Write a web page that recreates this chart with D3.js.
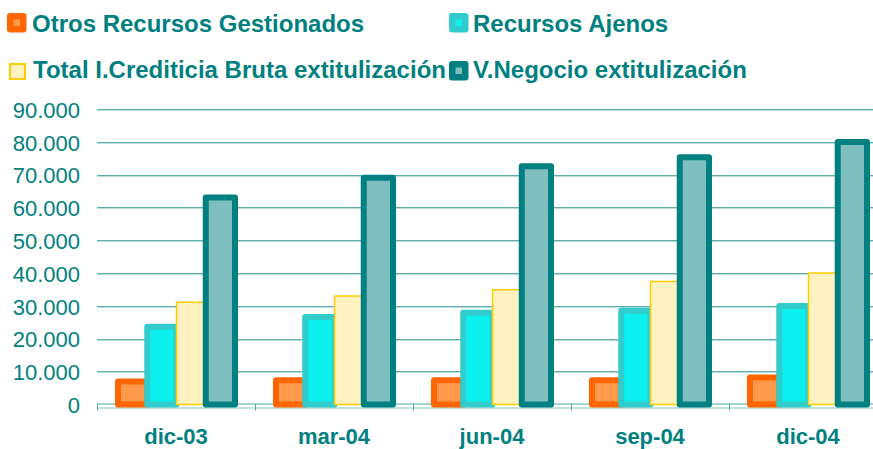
<!DOCTYPE html>
<html>
<head>
<meta charset="utf-8">
<script src="https://cdn.jsdelivr.net/npm/d3@7"></script>
<style>
  body { margin: 0; background: #fff; }
  text { font-family: "Liberation Sans", Arial, sans-serif; fill: #008080; }
</style>
</head>
<body>
<div class="chart"></div>
<script>
var svgWidth = 873;
var svgHeight = 449;

// data
var categories = ["dic-03", "mar-04", "jun-04", "sep-04", "dic-04"];
var seriesNames = ["Otros Recursos Gestionados", "Recursos Ajenos",
  "Total I.Crediticia Bruta extitulización", "V.Negocio extitulización"];
var otrosRecursos = [7000, 7400, 7400, 7400, 8200];
var recursosAjenos = [23700, 26700, 28000, 28600, 30000];
var totalCrediticia = [31200, 33100, 35000, 37500, 40100];
var vNegocio = [63100, 69100, 72600, 75400, 80000];
var yTicks = [0, 10000, 20000, 30000, 40000, 50000, 60000, 70000, 80000, 90000];

var seriesValues = [otrosRecursos, recursosAjenos, totalCrediticia, vNegocio];
var strokeColors = ["#FF6600", "#33CCCC", "#FFCC00", "#008080"];
var fillColors = ["#FF9A4D", "#0CF0F0", "#FFF2C0", "#80BFBF"];
var strokeWidths = [6, 6, 1.5, 6];

var margin = { left: 97, right: -10, top: 109.3, bottom: 44.5 };
var width = svgWidth - margin.left - margin.right;
var height = svgHeight - margin.top - margin.bottom;

var svg = d3.select(".chart")
  .append("svg")
  .attr("width", svgWidth)
  .attr("height", svgHeight);

var chartGroup = svg.append("g")
  .attr("transform", `translate(${margin.left}, ${margin.top})`);

var x0 = d3.scaleBand()
  .domain(categories)
  .range([0, 5 * 158]);

var x1 = d3.scaleBand()
  .domain(d3.range(seriesNames.length))
  .range([21, 138]);

var y = d3.scaleLinear()
  .domain([0, 90000])
  .range([height, 0]);

var fmt = d3.format(",");
function tickText(v) { return fmt(v).replace(/,/g, "."); }

// gridlines
chartGroup.append("g")
  .selectAll("line")
  .data(yTicks.slice(1))
  .enter()
  .append("line")
  .attr("x1", 0)
  .attr("x2", svgWidth - margin.left)
  .attr("y1", d => Math.round(y(d)) + 0.5)
  .attr("y2", d => Math.round(y(d)) + 0.5)
  .attr("stroke", "#1A8C8C")
  .attr("stroke-width", 1);

// y labels
var leftAxis = d3.axisLeft(y).tickValues(yTicks).tickFormat(tickText).tickSize(0).tickPadding(17);
var yAxisG = chartGroup.append("g").call(leftAxis);
yAxisG.select(".domain").remove();
yAxisG.selectAll("text")
  .attr("fill", "#008080")
  .style("font-size", "22px")
  .attr("dy", "0.36em");

// floor lines
chartGroup.append("line")
  .attr("x1", 0).attr("x2", svgWidth - margin.left)
  .attr("y1", height - 0.5).attr("y2", height - 0.5)
  .attr("stroke", "#4FA8A8");
chartGroup.append("line")
  .attr("x1", 0).attr("x2", svgWidth - margin.left)
  .attr("y1", height + 3.5).attr("y2", height + 3.5)
  .attr("stroke", "#7FC2C2");

// category ticks
var bottomAxis = d3.axisBottom(x0).tickSize(0).tickPadding(0);
chartGroup.append("g")
  .selectAll("line")
  .data(d3.range(categories.length + 1))
  .enter()
  .append("line")
  .attr("x1", d => Math.round(d * x0.bandwidth()) + 0.5)
  .attr("x2", d => Math.round(d * x0.bandwidth()) + 0.5)
  .attr("y1", height - 1)
  .attr("y2", height + 6)
  .attr("stroke", "#4FA8A8");

// bars
seriesValues.forEach(function(vals, s) {
  chartGroup.append("g")
    .selectAll("rect")
    .data(vals)
    .enter()
    .append("rect")
    .attr("x", (d, i) => x0(categories[i]) + x1(s))
    .attr("width", x1.bandwidth())
    .attr("y", d => y(d))
    .attr("height", d => height - y(d))
    .attr("fill", fillColors[s])
    .attr("stroke", strokeColors[s])
    .attr("stroke-width", strokeWidths[s])
    .attr("stroke-linejoin", "round");
});

// category labels
var xAxisG = chartGroup.append("g")
  .attr("transform", `translate(0, ${height})`)
  .call(bottomAxis);
xAxisG.select(".domain").remove();
xAxisG.selectAll("text")
  .attr("fill", "#008080")
  .attr("dy", 0)
  .attr("y", 39)
  .style("font-size", "22px")
  .style("font-weight", "bold");

// legend
var legendPos = [[7, 13, 32, 32], [449, 13, 473, 32], [9, 63, 33, 78], [449, 61, 473, 78]];
var legend = svg.append("g");
seriesNames.forEach(function(name, s) {
  var p = legendPos[s];
  if (s === 2) {
    legend.append("rect")
      .attr("x", p[0] + 1).attr("y", p[1] + 1)
      .attr("width", 15).attr("height", 15)
      .attr("fill", fillColors[s])
      .attr("stroke", strokeColors[s])
      .attr("stroke-width", 2);
  } else {
    legend.append("rect")
      .attr("x", p[0]).attr("y", p[1])
      .attr("width", 19.5).attr("height", 19.5)
      .attr("rx", 3)
      .attr("fill", strokeColors[s]);
    legend.append("rect")
      .attr("x", p[0] + 6.5).attr("y", p[1] + 6.5)
      .attr("width", 6.5).attr("height", 6.5)
      .attr("fill", fillColors[s]);
  }
  legend.append("text")
    .attr("x", p[2])
    .attr("y", p[3])
    .style("font-size", "24px")
    .style("font-weight", "bold")
    .text(name);
});
</script>
</body>
</html>
